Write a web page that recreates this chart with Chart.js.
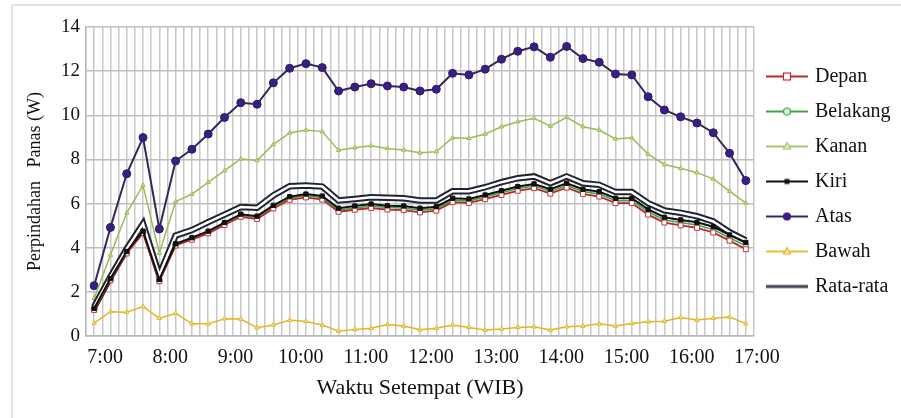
<!DOCTYPE html>
<html>
<head>
<meta charset="utf-8">
<script src="https://cdn.jsdelivr.net/npm/chart.js@4.4.1/dist/chart.umd.min.js"></script>
<style>
  html, body { margin: 0; padding: 0; background: #fff; overflow: hidden; }
  #wrap { position: relative; width: 901px; height: 418px; }
  #frame { position: absolute; left: 11px; top: 4px; width: 900px; height: 420px;
           border-left: 2px solid #e4e4e4; border-top: 2px solid #e4e4e4; }
  #chart { position: absolute; left: 0; top: 0; }
</style>
</head>
<body>
<div id="wrap"><div id="frame"></div><canvas id="chart" width="901" height="418"></canvas></div>
<script>
const times = [
  '7:00', '7:15', '7:30', '7:45', '8:00', '8:15', '8:30', '8:45', '9:00', '9:15', '9:30', '9:45',
  '10:00', '10:15', '10:30', '10:45', '11:00', '11:15', '11:30', '11:45', '12:00', '12:15', '12:30', '12:45',
  '13:00', '13:15', '13:30', '13:45', '14:00', '14:15', '14:30', '14:45', '15:00', '15:15', '15:30', '15:45',
  '16:00', '16:15', '16:30', '16:45', '17:00'
];

const depan = [1.18, 2.52, 3.74, 4.66, 2.48, 4.10, 4.36, 4.65, 5.03, 5.40, 5.30, 5.78, 6.17, 6.28, 6.18, 5.63, 5.72, 5.80, 5.73, 5.70, 5.60,
  5.68, 6.06, 6.03, 6.20, 6.39, 6.58, 6.70, 6.45, 6.72, 6.44, 6.32, 6.02, 6.02, 5.50, 5.14, 5.01, 4.90, 4.69, 4.32, 3.93];
const belakang = [1.22, 2.56, 3.79, 4.70, 2.52, 4.14, 4.41, 4.70, 5.09, 5.46, 5.37, 5.85, 6.24, 6.36, 6.26, 5.71, 5.80, 5.89, 5.82, 5.80, 5.70,
  5.77, 6.15, 6.12, 6.30, 6.49, 6.68, 6.80, 6.55, 6.82, 6.55, 6.43, 6.13, 6.13, 5.62, 5.26, 5.14, 5.03, 4.82, 4.45, 4.08];
const kanan = [1.71, 3.67, 5.58, 6.82, 3.75, 6.09, 6.43, 6.96, 7.49, 8.02, 7.95, 8.68, 9.20, 9.33, 9.26, 8.42, 8.53, 8.62, 8.50, 8.43, 8.30,
  8.35, 8.98, 8.96, 9.15, 9.48, 9.71, 9.86, 9.51, 9.91, 9.48, 9.33, 8.93, 8.98, 8.24, 7.77, 7.60, 7.40, 7.12, 6.56, 6.02];
const kiri = [1.25, 2.60, 3.83, 4.75, 2.56, 4.18, 4.45, 4.75, 5.14, 5.52, 5.43, 5.92, 6.31, 6.43, 6.34, 5.79, 5.89, 5.98, 5.90, 5.89, 5.79,
  5.86, 6.24, 6.21, 6.39, 6.58, 6.77, 6.89, 6.65, 6.92, 6.65, 6.54, 6.24, 6.24, 5.74, 5.38, 5.26, 5.15, 4.95, 4.58, 4.24];
const atas = [2.28, 4.92, 7.35, 8.99, 4.85, 7.93, 8.46, 9.15, 9.90, 10.57, 10.50, 11.47, 12.13, 12.34, 12.16, 11.10, 11.28, 11.43, 11.33, 11.28, 11.10,
  11.18, 11.90, 11.83, 12.09, 12.54, 12.90, 13.10, 12.63, 13.12, 12.57, 12.40, 11.87, 11.83, 10.84, 10.24, 9.93, 9.65, 9.21, 8.28, 7.04];
const bawah = [0.58, 1.10, 1.08, 1.33, 0.80, 1.03, 0.55, 0.55, 0.78, 0.77, 0.37, 0.50, 0.72, 0.66, 0.50, 0.22, 0.30, 0.35, 0.52, 0.45, 0.28,
  0.35, 0.50, 0.39, 0.27, 0.32, 0.39, 0.42, 0.27, 0.42, 0.45, 0.55, 0.45, 0.57, 0.65, 0.67, 0.84, 0.72, 0.80, 0.86, 0.56];
const rataRata = [1.32, 2.68, 3.95, 5.08, 2.75, 4.55, 4.80, 5.16, 5.50, 5.84, 5.81, 6.37, 6.79, 6.82, 6.77, 6.14, 6.21, 6.29, 6.26, 6.24, 6.14,
  6.14, 6.56, 6.56, 6.74, 6.97, 7.15, 7.23, 6.92, 7.23, 6.92, 6.85, 6.52, 6.52, 6.02, 5.69, 5.58, 5.43, 5.19, 4.70, 4.33];

const seriesNames = ['Depan', 'Belakang', 'Kanan', 'Kiri', 'Atas', 'Bawah', 'Rata-rata'];
const yTicks = [0, 2, 4, 6, 8, 10, 12, 14];

const toPoints = arr => arr.map((v, i) => ({ x: i, y: v }));

// legend samples: a short line with the marker in the middle
function sample(color, width, marker, fill, stroke) {
  const c = document.createElement('canvas');
  c.width = 42; c.height = 12;
  const g = c.getContext('2d');
  g.strokeStyle = color; g.lineWidth = width;
  g.beginPath(); g.moveTo(0, 6); g.lineTo(42, 6); g.stroke();
  g.fillStyle = fill; g.strokeStyle = stroke; g.lineWidth = 1.2;
  if (marker === 'rect') { g.fillRect(17.5, 2.5, 7, 7); g.strokeRect(17.5, 2.5, 7, 7); }
  if (marker === 'smallrect') { g.fillRect(18.5, 3.5, 5, 5); }
  if (marker === 'circle') { g.beginPath(); g.arc(21, 6, 3.5, 0, Math.PI * 2); g.fill(); g.stroke(); }
  if (marker === 'triangle') { g.beginPath(); g.moveTo(21, 2); g.lineTo(24.5, 8.5); g.lineTo(17.5, 8.5); g.closePath(); g.fill(); g.stroke(); }
  return c;
}
const legendIcons = [
  sample('#b8282e', 2, 'rect', '#ffffff', '#b8282e'),
  sample('#3aa648', 2, 'circle', '#d9f0da', '#3aa648'),
  sample('#a9c46a', 2, 'triangle', '#e4edc9', '#a9c46a'),
  sample('#111111', 2.2, 'smallrect', '#111111', '#111111'),
  sample('#35285e', 2, 'circle', '#3b1e82', '#3b1e82'),
  sample('#e9bd3a', 2, 'triangle', '#f6e3a6', '#e3b523'),
  sample('#3a4150', 3, 'none', '#000', '#000')
];

// the legend box keeps a fixed width so the plot ends where it should
const legendWidth = {
  id: 'legendWidth',
  afterInit(chart) {
    const lg = chart.legend;
    const fit = lg.fit;
    lg.fit = function () { fit.call(this); this.width = 147; };
  }
};

Chart.defaults.font.family = "'Liberation Serif', serif";
Chart.defaults.color = '#111111';

new Chart(document.getElementById('chart'), {
  type: 'line',
  data: {
    datasets: [
      { label: 'Depan', data: toPoints(depan), borderColor: '#b8282e', borderWidth: 1.8,
        pointStyle: 'rect', pointRadius: 3.5, pointBackgroundColor: '#ffffff', pointBorderColor: '#c0393e', pointBorderWidth: 1, order: 2 },
      { label: 'Belakang', data: toPoints(belakang), borderColor: '#3aa648', borderWidth: 1.5,
        pointStyle: 'circle', pointRadius: 3, pointBackgroundColor: '#d9f0da', pointBorderColor: '#3aa648', pointBorderWidth: 1, order: 3 },
      { label: 'Kanan', data: toPoints(kanan), borderColor: '#9bbb59', borderWidth: 1.5,
        pointStyle: 'triangle', pointRadius: 2.5, pointBackgroundColor: '#c9dc9a', pointBorderColor: '#9bbb59', pointBorderWidth: 1, order: 6 },
      { label: 'Kiri', data: toPoints(kiri), borderColor: '#111111', borderWidth: 2,
        pointStyle: 'rect', pointRadius: 3, pointBackgroundColor: '#111111', pointBorderColor: '#111111', pointBorderWidth: 1, order: 1 },
      { label: 'Atas', data: toPoints(atas), borderColor: '#32285a', borderWidth: 2,
        pointStyle: 'circle', pointRadius: 4, pointBackgroundColor: '#3b1e82', pointBorderColor: '#2e1a66', pointBorderWidth: 1, order: 6 },
      { label: 'Bawah', data: toPoints(bawah), borderColor: '#e6b422', borderWidth: 1.5,
        pointStyle: 'triangle', pointRadius: 2.5, pointBackgroundColor: '#f6e3a6', pointBorderColor: '#e3b523', pointBorderWidth: 1, order: 6 },
      { label: 'Rata-rata', data: toPoints(rataRata), borderColor: '#1e2530', borderWidth: 6.5,
        pointRadius: 0, order: 5 },
      { label: 'Rata-rata (isi)', data: toPoints(rataRata), borderColor: '#ffffff', borderWidth: 2.5,
        pointRadius: 0, order: 4 }
    ]
  },
  options: {
    responsive: false,
    animation: false,
    events: [],
    layout: { padding: { left: 0, right: 0, top: 27, bottom: 0 } },
    elements: { line: { tension: 0, fill: false } },
    scales: {
      x: {
        type: 'linear',
        min: -0.5,
        max: times.length - 0.5,
        afterFit: s => { s.height = 82; },
        grid: { color: '#c8c8c8', lineWidth: 1.5, drawTicks: false },
        border: { color: '#b8b8b8', width: 1.5 },
        ticks: {
          stepSize: 0.5,
          autoSkip: false,
          maxRotation: 0,
          padding: 10,
          labelOffset: 11,
          font: { size: 20 },
          callback: v => (Number.isInteger(v) && v % 4 === 0) ? times[v] : ''
        },
        title: { display: true, text: 'Waktu Setempat (WIB)', font: { size: 22 }, padding: { top: 0, bottom: 17 } }
      },
      y: {
        min: 0,
        max: 14,
        afterFit: s => { s.width = 86; },
        afterBuildTicks: s => { s.ticks = yTicks.map(v => ({ value: v })); },
        grid: { color: '#bdbdbd', lineWidth: 1.5, drawTicks: false },
        border: { color: '#b8b8b8', width: 1.5 },
        ticks: { padding: 6, font: { size: 19 } },
        title: { display: true, text: 'Perpindahan   Panas (W)', font: { size: 18 }, padding: { top: 24, bottom: 0 } }
      }
    },
    plugins: {
      tooltip: { enabled: false },
      legend: {
        position: 'right',
        align: 'center',
        fullSize: false,
        labels: {
          usePointStyle: true,
          pointStyleWidth: 36,
          padding: 15,
          font: { size: 20 },
          color: '#111111',
          generateLabels: () => seriesNames.map((name, i) => ({
            text: name, pointStyle: legendIcons[i], datasetIndex: i, hidden: false,
            fillStyle: 'transparent', strokeStyle: 'transparent', lineWidth: 0, fontColor: '#111111'
          }))
        }
      }
    }
  },
  plugins: [legendWidth]
});
</script>
</body>
</html>
